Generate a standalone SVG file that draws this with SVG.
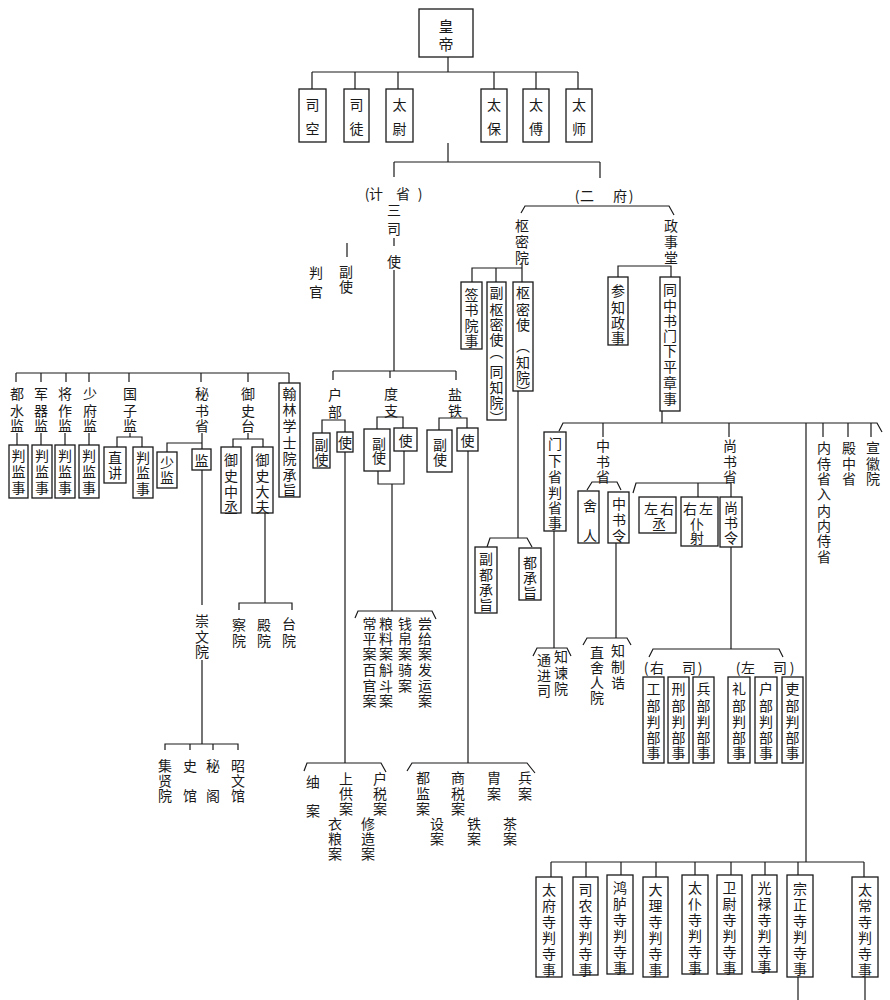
<svg xmlns="http://www.w3.org/2000/svg" width="890" height="1000" viewBox="0 0 890 1000">
<style>
.bx{fill:#fff;stroke:#1a1a1a;stroke-width:1.3}
.ln{fill:none;stroke:#1a1a1a;stroke-width:1.2}
text{font-family:"Noto Sans CJK SC","Noto Sans CJK TC",sans-serif;font-size:14px;fill:#1a1a1a;text-anchor:middle;dominant-baseline:central}
.big{font-size:15px}
.vt{writing-mode:vertical-rl;text-orientation:mixed}
</style>
<rect width="890" height="1000" fill="#fff"/>
<g id="connectors" class="ln">
<path d="M448 57V72 M312 72H578 M312 72V89 M355 72V89 M398 72V89 M494 72V89 M536 72V89 M578 72V89"/>
<path d="M448 143V162 M394 162H600 M394 162V177 M600 162V178"/>
<path d="M394 238V246 M394 270V371 M347 243V257"/>
<path d="M333 371H456 M333 371V380 M390 371V378 M456 371V380"/>
<path d="M322 433V420H345V432 M377 429V417H403V428 M439 430V418H467V428"/>
<path d="M378 471V484H404V451 M392 484V611 M355 618L358 611H432L436 619"/>
<path d="M345 452V763 M304 771L307 763H381L386 772"/>
<path d="M468 451V763 M407 771L412 763H527L535 773"/>
<path d="M521 213L525 206H669L674 215"/>
<path d="M522 263V268 M472 282V268H522V282 M496 268V282"/>
<path d="M518 391V538 M487 547L490 538H527L532 547"/>
<path d="M618 277V266H671V277 M662 411V423"/>
<path d="M559 431L563 423H877L882 432 M603 423V437 M729 423V437 M823 423V437 M848 423V437 M871 423V437 M806 423V862"/>
<path d="M587 490L592 482H617L621 490"/>
<path d="M633 493L636 483H731V497 M698 483V497"/>
<path d="M554 531V648 M533 656L537 648H567L571 656"/>
<path d="M616 543V638 M583 645L587 638H627L631 645"/>
<path d="M731 547V649 M649 657L653 649H779L783 657"/>
<path d="M551 862H864 M551 862V877 M586 862V877 M621 862V875 M656 862V877 M695 862V875 M731 862V875 M765 862V875 M798 862V875 M864 862V877 M798 977V1000 M865 977V1000"/>
<path d="M16 373H289 M16 373V382 M41 373V382 M66 373V382 M89 373V382 M129 373V382 M201 373V382 M248 373V382 M289 373V383"/>
<path d="M17 433V445 M41 433V445 M65 433V445 M89 433V445 M130 433V437 M117 447V437H142V447"/>
<path d="M202 433V449 M167 452V443H202 M248 433V439 M233 447V439H263V447"/>
<path d="M202 470V605 M202 660V744 M165 750V744H238V750 M190 744V750 M213 744V750"/>
<path d="M265 513V603 M239 610V603H292V610"/>
</g>
<g id="n-huangdi"><rect class="bx" x="419" y="9" width="54" height="48"/><text class="big" x="446 446" y="25 43">皇帝</text></g>
<g id="n-sikong"><rect class="bx" x="299" y="89" width="27" height="53"/><text x="312.5 312.5" y="104 128">司空</text></g>
<g id="n-situ"><rect class="bx" x="344" y="89" width="25" height="53"/><text x="356.5 356.5" y="104 128">司徒</text></g>
<g id="n-taiwei"><rect class="bx" x="386" y="89" width="27" height="53"/><text x="399.5 399.5" y="104 128">太尉</text></g>
<g id="n-taibao"><rect class="bx" x="481" y="89" width="26" height="53"/><text x="494 494" y="104 128">太保</text></g>
<g id="n-taifu"><rect class="bx" x="523" y="89" width="26" height="53"/><text x="536 536" y="104 128">太傅</text></g>
<g id="n-taishi"><rect class="bx" x="566" y="89" width="26" height="53"/><text x="579 579" y="104 128">太师</text></g>
<g id="n-jisheng"><text x="367 376 389 403 420" y="193">(计　省)</text></g>
<g id="n-sansishi"><text x="394 394 394" y="209 228 261">三司使</text></g>
<g id="n-fushi"><text x="346 346" y="271 286">副使</text></g>
<g id="n-panguan"><text x="316 316" y="272 291">判官</text></g>
<g id="n-hubu"><text x="335 335" y="394 411">户部</text></g>
<g id="n-hubu-fushi"><rect class="bx" x="313" y="433" width="17" height="35"/><text x="321.5 321.5" y="444 459">副使</text></g>
<g id="n-hubu-shi"><rect class="bx" x="337" y="432" width="16" height="20"/><text x="345" y="442">使</text></g>
<g id="n-duzhi"><text x="391 391" y="393 410">度支</text></g>
<g id="n-duzhi-fushi"><rect class="bx" x="364" y="429" width="26" height="42"/><text x="379 379" y="443 457">副使</text></g>
<g id="n-duzhi-shi"><rect class="bx" x="394" y="428" width="23" height="23"/><text x="405.5" y="440">使</text></g>
<g id="n-yantie"><text x="455 455" y="394 410">盐铁</text></g>
<g id="n-yantie-fushi"><rect class="bx" x="427" y="430" width="25" height="42"/><text x="440 440" y="444 459">副使</text></g>
<g id="n-yantie-shi"><rect class="bx" x="457" y="428" width="21" height="23"/><text x="467.5" y="440">使</text></g>
<g id="n-duzhi-an">
<text x="369.5 369.5 369.5 369.5 369.5 369.5" y="623 638 653 669 685 700">常平案百官案</text>
<text x="386 386 386 386 386 386" y="623 638 653 669 685 700">粮料案斛斗案</text>
<text x="405 405 405 405 405" y="623 638 653 669 685">钱帛案骑案</text>
<text x="425 425 425 425 425 425" y="623 638 653 669 685 700">尝给案发运案</text>
</g>
<g id="n-hubu-an">
<text x="313 313" y="781 810">䌷案</text>
<text x="346 346 346" y="778 793 808">上供案</text>
<text x="380 380 380" y="778 793 808">户税案</text>
<text x="335 335 335" y="823 838 853">衣粮案</text>
<text x="368 368 368" y="823 838 853">修造案</text>
</g>
<g id="n-yantie-an">
<text x="423 423 423" y="777 793 808">都监案</text>
<text x="458 458 458" y="777 793 808">商税案</text>
<text x="494 494" y="777 793">胄案</text>
<text x="525 525" y="777 793">兵案</text>
<text x="437 437" y="823 838">设案</text>
<text x="474 474" y="823 838">铁案</text>
<text x="510 510" y="823 838">茶案</text>
</g>
<g id="n-erfu"><text x="577 587 603 620 631" y="195">(二　府)</text></g>
<g id="n-shumiyuan"><text x="522 522 522" y="225 241 257">枢密院</text></g>
<g id="n-qianshu"><rect class="bx" x="461" y="282" width="21" height="67"/><text x="471.5 471.5 471.5 471.5" y="294 309 325 340">签书院事</text></g>
<g id="n-fushumishi"><rect class="bx" x="487" y="282" width="19" height="138"/><text class="vt" x="496.5 496.5 496.5 496.5 496.5 496.5 496.5 496.5 496.5" y="293 310 325 340 352 372 388 403 418">副枢密使（同知院）</text></g>
<g id="n-shumishi"><rect class="bx" x="513" y="282" width="20" height="109"/><text class="vt" x="523 523 523 523 523 523 523" y="293 310 325 346 363 378 392">枢密使（知院）</text></g>
<g id="n-fuduchengzhi"><rect class="bx" x="475" y="547" width="22" height="66"/><text x="486 486 486 486" y="558 574 589 604">副都承旨</text></g>
<g id="n-duchengzhi"><rect class="bx" x="519" y="548" width="22" height="52"/><text x="530 530 530" y="562 577 592">都承旨</text></g>
<g id="n-zhengshitang"><text x="671 671 671" y="225 241 257">政事堂</text></g>
<g id="n-canzhi"><rect class="bx" x="608" y="277" width="20" height="68"/><text x="618 618 618 618" y="290 307 322 337">参知政事</text></g>
<g id="n-tongzhongshu"><rect class="bx" x="660" y="277" width="20" height="134"/><text x="670 670 670 670 670 670 670 670" y="289 305 320 335 350 366 382 398">同中书门下平章事</text></g>
<g id="n-menxia"><rect class="bx" x="544" y="432" width="22" height="99"/><text x="555 555 555 555 555 555" y="443 460 476 492 507 522">门下省判省事</text></g>
<g id="n-zhongshusheng"><text x="603 603 603" y="445 461 476">中书省</text></g>
<g id="n-sheren"><rect class="bx" x="578" y="491" width="21" height="52"/><text x="590 590" y="505 535">舍人</text></g>
<g id="n-zhongshuling"><rect class="bx" x="608" y="492" width="21" height="51"/><text x="619 619 619" y="503 519 535">中书令</text></g>
<g id="n-tongjinsi"><text x="544 544 544" y="659 675 690">通进司</text></g>
<g id="n-zhijianyuan"><text x="561 561 561" y="656 672 688">知谏院</text></g>
<g id="n-zhisherenyuan"><text x="597 597 597 597" y="652 667 682 697">直舍人院</text></g>
<g id="n-zhizhigao"><text x="618 618 618" y="650 666 682">知制诰</text></g>
<g id="n-shangshusheng"><text x="730 730 730" y="445 461 476">尚书省</text></g>
<g id="n-zuoyoucheng"><rect class="bx" x="639" y="497" width="37" height="36"/><text x="651 667 659" y="508 508 523">左右丞</text></g>
<g id="n-youzuopuye"><rect class="bx" x="681" y="497" width="37" height="49"/><text x="690 706 697 697" y="508 508 523 537">右左仆射</text></g>
<g id="n-shangshuling"><rect class="bx" x="720" y="497" width="22" height="50"/><text x="731 731 731" y="507 522 537">尚书令</text></g>
<g id="n-yousi"><text x="646 657 673 689 700" y="667">(右　司)</text></g>
<g id="n-zuosi"><text x="738 748 764 780 792" y="667">(左　司)</text></g>
<g id="n-gongbu"><rect class="bx" x="643" y="677" width="21" height="86"/><text x="653.5 653.5 653.5 653.5 653.5" y="688 705 721 737 752">工部判部事</text></g>
<g id="n-xingbu"><rect class="bx" x="668" y="677" width="21" height="86"/><text x="678.5 678.5 678.5 678.5 678.5" y="688 705 721 737 752">刑部判部事</text></g>
<g id="n-bingbu"><rect class="bx" x="693" y="677" width="21" height="86"/><text x="703.5 703.5 703.5 703.5 703.5" y="688 705 721 737 752">兵部判部事</text></g>
<g id="n-libu"><rect class="bx" x="728" y="677" width="22" height="86"/><text x="739 739 739 739 739" y="688 705 721 737 752">礼部判部事</text></g>
<g id="n-hubu2"><rect class="bx" x="755" y="677" width="22" height="86"/><text x="766 766 766 766 766" y="688 705 721 737 752">户部判部事</text></g>
<g id="n-libu2"><rect class="bx" x="782" y="677" width="21" height="86"/><text x="792.5 792.5 792.5 792.5 792.5" y="688 705 721 737 752">吏部判部事</text></g>
<g id="n-neishi"><text x="824 824 824 824 824 824 824 824" y="447 463 478 493 510 525 540 556">内侍省入内内侍省</text></g>
<g id="n-dianzhong"><text x="849 849 849" y="447 463 478">殿中省</text></g>
<g id="n-xuanhui"><text x="873 873 873" y="447 463 478">宣徽院</text></g>
<g id="n-taifusi"><rect class="bx" x="536" y="877" width="26" height="100"/><text x="549 549 549 549 549 549" y="889 905 921 937 953 969">太府寺判寺事</text></g>
<g id="n-sinong"><rect class="bx" x="573" y="877" width="25" height="98"/><text x="585.5 585.5 585.5 585.5 585.5 585.5" y="889 905 921 937 953 969">司农寺判寺事</text></g>
<g id="n-honglu"><rect class="bx" x="607" y="875" width="26" height="99"/><text x="620 620 620 620 620 620" y="887 903 919 935 951 967">鸿胪寺判寺事</text></g>
<g id="n-dali"><rect class="bx" x="643" y="877" width="25" height="100"/><text x="655.5 655.5 655.5 655.5 655.5 655.5" y="889 905 921 937 953 969">大理寺判寺事</text></g>
<g id="n-taipu"><rect class="bx" x="682" y="875" width="26" height="99"/><text x="695 695 695 695 695 695" y="887 903 919 935 951 967">太仆寺判寺事</text></g>
<g id="n-weiwei"><rect class="bx" x="717" y="875" width="25" height="99"/><text x="729.5 729.5 729.5 729.5 729.5 729.5" y="887 903 919 935 951 967">卫尉寺判寺事</text></g>
<g id="n-guanglu"><rect class="bx" x="752" y="875" width="25" height="97"/><text x="764.5 764.5 764.5 764.5 764.5 764.5" y="887 903 919 935 951 966">光禄寺判寺事</text></g>
<g id="n-zongzheng"><rect class="bx" x="787" y="875" width="26" height="102"/><text x="800 800 800 800 800 800" y="888 904 920 936 952 968">宗正寺判寺事</text></g>
<g id="n-taichang"><rect class="bx" x="852" y="877" width="26" height="100"/><text x="865 865 865 865 865 865" y="889 905 921 937 953 969">太常寺判寺事</text></g>
<g id="n-dushuijian"><text x="17 17 17" y="393 410 425">都水监</text></g>
<g id="n-junqijian"><text x="41 41 41" y="393 410 425">军器监</text></g>
<g id="n-jiangzuojian"><text x="65 65 65" y="393 410 425">将作监</text></g>
<g id="n-shaofujian"><text x="90 90 90" y="393 410 425">少府监</text></g>
<g id="n-guozijian"><text x="130 130 130" y="393 410 425">国子监</text></g>
<g id="n-mishusheng"><text x="202 202 202" y="393 410 425">秘书省</text></g>
<g id="n-yushitai"><text x="248 248 248" y="393 410 425">御史台</text></g>
<g id="n-hanlin"><rect class="bx" x="279" y="383" width="21" height="114"/><text x="289.5 289.5 289.5 289.5 289.5 289.5 289.5" y="393 409 425 442 458 474 489">翰林学士院承旨</text></g>
<g id="n-dushui-pan"><rect class="bx" x="9" y="445" width="19" height="53"/><text x="18.5 18.5 18.5" y="455 471 487">判监事</text></g>
<g id="n-junqi-pan"><rect class="bx" x="32" y="445" width="20" height="53"/><text x="42 42 42" y="455 471 487">判监事</text></g>
<g id="n-jiangzuo-pan"><rect class="bx" x="55" y="445" width="20" height="53"/><text x="65 65 65" y="455 471 487">判监事</text></g>
<g id="n-shaofu-pan"><rect class="bx" x="79" y="445" width="20" height="53"/><text x="89 89 89" y="455 471 487">判监事</text></g>
<g id="n-zhijiang"><rect class="bx" x="104" y="447" width="22" height="36"/><text x="115 115" y="457 472">直讲</text></g>
<g id="n-guozi-pan"><rect class="bx" x="133" y="447" width="20" height="51"/><text x="143 143 143" y="457 472 488">判监事</text></g>
<g id="n-shaojian"><rect class="bx" x="157" y="452" width="20" height="36"/><text x="167 167" y="462 477">少监</text></g>
<g id="n-jian"><rect class="bx" x="192" y="449" width="19" height="21"/><text x="201.5" y="459.5">监</text></g>
<g id="n-yushizhongcheng"><rect class="bx" x="221" y="447" width="20" height="66"/><text x="231 231 231 231" y="459 475 491 506">御史中丞</text></g>
<g id="n-yushidafu"><rect class="bx" x="252" y="447" width="21" height="66"/><text x="262.5 262.5 262.5 262.5" y="459 475 491 506">御史大夫</text></g>
<g id="n-chongwenyuan"><text x="202 202 202" y="620 636 651">崇文院</text></g>
<g id="n-jixianyuan"><text x="165 165 165" y="765 780 795">集贤院</text></g>
<g id="n-shiguan"><text x="190 190" y="765 795">史馆</text></g>
<g id="n-mige"><text x="213 213" y="765 795">秘阁</text></g>
<g id="n-zhaowenguan"><text x="238 238 238" y="765 780 795">昭文馆</text></g>
<g id="n-chayuan"><text x="239 239" y="624 640">察院</text></g>
<g id="n-dianyuan"><text x="264 264" y="624 640">殿院</text></g>
<g id="n-taiyuan"><text x="289 289" y="623 640">台院</text></g>
</svg>
